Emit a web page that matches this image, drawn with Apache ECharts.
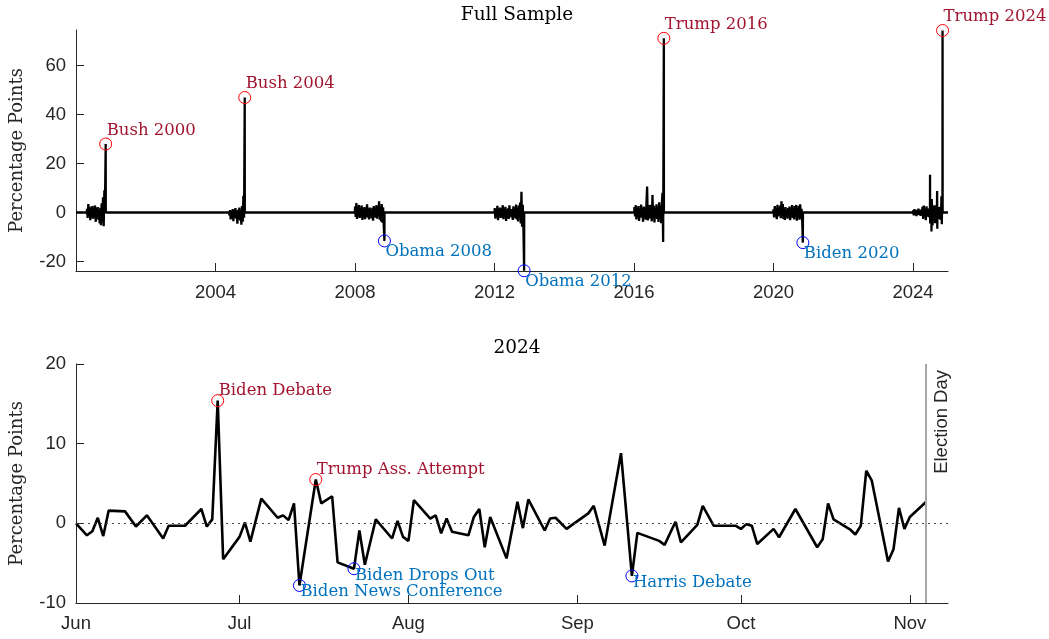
<!DOCTYPE html>
<html><head><meta charset="utf-8">
<script src="https://cdn.jsdelivr.net/npm/echarts@6/dist/echarts.min.js"></script>
<style>html,body{margin:0;padding:0;background:#fff}#c{width:1049px;height:639px}</style>
</head><body><div id="c"></div>
<script>
// ---------- 2024 panel: trading-day readings, June – November ----------
const dates2024 = ['2024-06-01','2024-06-03','2024-06-04','2024-06-05','2024-06-06','2024-06-07','2024-06-10','2024-06-12','2024-06-14','2024-06-17','2024-06-18','2024-06-21','2024-06-24','2024-06-25','2024-06-26','2024-06-27','2024-06-28','2024-07-01','2024-07-02','2024-07-03','2024-07-05','2024-07-08','2024-07-09','2024-07-10','2024-07-11','2024-07-12','2024-07-15','2024-07-16','2024-07-18','2024-07-19','2024-07-22','2024-07-23','2024-07-24','2024-07-26','2024-07-29','2024-07-30','2024-07-31','2024-08-01','2024-08-02','2024-08-05','2024-08-06','2024-08-07','2024-08-08','2024-08-09','2024-08-12','2024-08-13','2024-08-14','2024-08-15','2024-08-16','2024-08-19','2024-08-21','2024-08-22','2024-08-23','2024-08-26','2024-08-27','2024-08-28','2024-08-30','2024-09-03','2024-09-04','2024-09-06','2024-09-09','2024-09-11','2024-09-12','2024-09-16','2024-09-17','2024-09-19','2024-09-20','2024-09-23','2024-09-24','2024-09-26','2024-09-30','2024-10-01','2024-10-02','2024-10-03','2024-10-04','2024-10-07','2024-10-08','2024-10-11','2024-10-15','2024-10-16','2024-10-17','2024-10-18','2024-10-21','2024-10-22','2024-10-23','2024-10-24','2024-10-25','2024-10-28','2024-10-29','2024-10-30','2024-10-31','2024-11-01','2024-11-04'];
const values2024 = [0,-1.5,-1.0,0.7,-1.6,1.6,1.5,-0.4,1.0,-1.9,-0.3,-0.3,1.8,-0.4,0.5,15.4,-4.5,-1.7,0.1,-2.3,3.1,0.7,1.0,0.4,2.5,-7.8,5.5,2.5,3.4,-4.9,-5.7,-0.9,-5.2,0.5,-1.9,0.3,-1.7,-2.2,2.9,0.6,1.0,-1.25,0.6,-1.05,-1.5,0.8,1.8,-3.0,0.8,-4.4,2.7,-0.6,3.0,-0.9,0.6,0.7,-0.7,1.25,2.2,-2.8,8.8,-6.6,-1.2,-2.2,-2.7,0.2,-2.4,-0.2,2.2,-0.3,-0.3,-0.7,-0.1,-0.3,-2.6,-0.7,-1.75,1.8,-3.0,-2.0,2.5,0.5,-0.75,-1.4,-0.3,6.6,5.4,-4.8,-3.25,1.95,-0.7,0.8,2.7];

const eventNames  = ['Biden Debate','Trump Ass. Attempt','Biden News Conference','Biden Drops Out','Harris Debate'];
const eventDates  = ['2024-06-27','2024-07-15','2024-07-12','2024-07-22','2024-09-11'];
const eventParty  = ['R','R','D','D','D'];

const monthTicks  = ['2024-06-01','2024-07-01','2024-08-01','2024-09-01','2024-10-01','2024-11-01'];
const monthLabels = ['Jun','Jul','Aug','Sep','Oct','Nov'];
const electionDay2024Line = '2024-11-04';
const panel2Start = '2024-06-01';
const panel2End   = '2024-11-08';

// ---------- full sample: weekly readings before each election ----------
const electionNames  = ['Bush 2000','Bush 2004','Obama 2008','Obama 2012','Trump 2016','Biden 2020','Trump 2024'];
const electionDays   = ['2000-11-07','2004-11-02','2008-11-04','2012-11-06','2016-11-08','2020-11-03','2024-11-05'];
const electionValues = [28, 47, -11.6, -23.8, 71.2, -12.3, 74.4];
const electionParty  = ['R','R','D','D','R','D','R'];

const burst2000 = [1.5,-2.2,3.5,-1.0,2.4,-3.1,0.8,-1.8,2.6,-2.5,1.2,-0.6,2.9,-3.8,1.7,-1.3,2.2,-2.9,0.9,-4.5,1.9,-5.2,3.8,-4.1,6.2,-5.6,9.1,4.8];
const burst2004 = [-1.2,1.0,-2.8,0.6,-1.9,1.4,-3.5,0.4,-0.8,1.8,-2.4,0.9,-4.6,1.1,-1.5,2.0,-3.2,0.7,-5.0,2.6,-3.8,6.8,-2.1];
const burst2008 = [2.5,-1.8,3.9,-2.6,1.2,-0.9,3.1,-2.2,0.6,-1.5,2.8,-3.0,1.5,-0.4,2.2,-2.7,0.8,-1.9,3.4,-2.0,1.1,-2.8,2.0,-1.2,0.5,-2.4,1.9,-3.3,2.6,-1.0,0.9,-2.1,3.0,-2.5,1.6,-0.7,4.6,-2.9,2.3,-3.6,3.5,-4.2,2.1,-5.3];
const burst2012 = [1.8,-2.5,0.9,-1.4,2.7,-3.1,1.2,-0.6,2.0,-2.2,0.4,-1.8,3.0,-2.7,1.5,-1.1,2.3,-3.4,0.8,-0.9,1.7,-2.6,2.9,-1.5,0.6,-2.0,1.4,-3.0,2.5,-1.3,0.7,-2.4,3.3,-2.8,1.9,-3.6,2.8,-2.2,4.1,-4.5,8.5,-5.8,3.2,-7.1];
const burst2016 = [2.2,-1.6,3.0,-2.8,1.1,-0.5,2.6,-3.4,0.9,-1.7,3.3,-2.1,1.4,-3.8,2.4,-0.8,1.6,-2.9,3.7,10.6,-3.2,1.8,-2.5,3.1,-1.2,0.6,-3.6,7.2,-2.0,2.7,-4.1,1.5,-0.9,3.4,-2.6,2.0,-3.9,4.2,-1.8,2.9,-4.4,3.6,8.1,-12.0];
const burst2020 = [1.3,-2.0,2.6,-1.1,0.8,-2.7,3.2,-1.6,1.9,-0.7,2.8,-2.3,4.6,-1.9,3.5,-2.6,1.2,-3.0,2.2,-1.4,0.7,-2.5,1.8,-1.0,2.4,-3.1,1.0,-1.7,3.0,-2.2,0.9,-2.8,2.6,-1.3,3.1,-3.3,1.6,-0.6,2.7,-2.9,3.4,-2.4,1.5,-3.2];
const burst2024Early = [0.9,-1.2,1.4,-0.6,0.3,-1.5,1.1,-0.8,1.6,-1.0,0.5,-1.4,1.2,-0.4,2.3,-2.6,2.8,-1.9,1.4,-3.1,2.5,-1.7];
const burst2024EarlyStart = '2024-01-02';
const fullStart = '2000-01-01';
const fullEnd   = '2025-01-01';
const yearTicks = ['2004','2008','2012','2016','2020','2024'];
const fullYTicks = [-20, 0, 20, 40, 60];

// ---------- helpers ----------
function t(s, addDays){ const p = s.split('-').map(Number); return new Date(p[0], p[1]-1, p[2] + (addDays||0)).getTime(); }

// full-sample line
const bursts = [burst2000, burst2004, burst2008, burst2012, burst2016, burst2020];
const fullData = [[t(fullStart), 0]];
bursts.forEach((b, i) => {
  const n = b.length;
  fullData.push([t(electionDays[i], -7*n - 1), 0]);
  b.forEach((v, k) => fullData.push([t(electionDays[i], -7*(n-k)), v]));
  fullData.push([t(electionDays[i]), electionValues[i]]);
  fullData.push([t(electionDays[i], 1), 0]);
});
fullData.push([t(burst2024EarlyStart, -1), 0]);
burst2024Early.forEach((v, k) => fullData.push([t(burst2024EarlyStart, 7*k), v]));
dates2024.forEach((d, k) => fullData.push([t(d), values2024[k]]));
fullData.push([t(electionDays[6]), electionValues[6]]);
fullData.push([t(electionDays[6], 1), 0]);
fullData.push([t(fullEnd), 0]);

const panel2Data = dates2024.map((d, k) => [t(d), values2024[k]]);

const RED = '#FF0000', BLUE = '#0000FF', RED_TXT = '#A2142F', BLUE_TXT = '#0072BD';
const AX = '#262626';
const SERIF = 'DejaVu Serif';
const SANS = 'Liberation Sans';

function marks(names, xs, ys, party, want){
  const out = [];
  names.forEach((nm, i) => { if (party[i] === want) out.push({name: nm, value: [xs[i], ys[i]]}); });
  return out;
}
const elX = electionDays.map(d => t(d));
const evX = eventDates.map(d => t(d));
const evY = eventDates.map(d => values2024[dates2024.indexOf(d)]);

function markSeries(data, color, txt, dy, idx){
  return {
    type: 'scatter', xAxisIndex: idx, yAxisIndex: idx, data, z: 5,
    symbol: 'circle', symbolSize: 12,
    itemStyle: {color: 'rgba(0,0,0,0)', borderColor: color, borderWidth: 1, opacity: 1},
    emphasis: {disabled: true}, silent: true,
    label: {show: true, formatter: '{b}', position: 'inside', align: 'left', verticalAlign: 'middle',
            offset: [1, dy], color: txt, fontFamily: SERIF, fontSize: 16.5}
  };
}

const gridL = 76, gridR = 101, top1 = 30, h1 = 241, top2 = 364, h2 = 239;
const midX = gridL + (1049 - gridL - gridR) / 2;
const yearVals = yearTicks.map(y => t(y + '-01-01'));
const monthVals = monthTicks.map(d => t(d));

const option = {
  animation: false,
  backgroundColor: '#fff',
  title: [
    {text: 'Full Sample', left: midX, textAlign: 'center', top: 1, textStyle: {fontFamily: SERIF, fontSize: 18.5, fontWeight: 'normal', color: '#000'}},
    {text: '2024', left: midX, textAlign: 'center', top: 334, textStyle: {fontFamily: SERIF, fontSize: 18.5, fontWeight: 'normal', color: '#000'}}
  ],
  grid: [
    {left: gridL, right: gridR, top: top1, height: h1},
    {left: gridL, right: gridR, top: top2, height: h2}
  ],
  xAxis: [
    {
      type: 'value', gridIndex: 0, min: t(fullStart), max: t(fullEnd), scale: true, position: 'bottom',
      axisLine: {show: true, onZero: false, lineStyle: {color: AX, width: 1}},
      splitLine: {show: false},
      axisTick: {show: true, inside: true, length: 8, lineStyle: {color: AX}, customValues: yearVals},
      axisLabel: {color: AX, fontFamily: SANS, fontSize: 18.5, margin: 12, customValues: yearVals,
        formatter: v => String(new Date(v).getFullYear())}
    },
    {
      type: 'value', gridIndex: 1, min: t(panel2Start), max: t(panel2End), scale: true, position: 'bottom',
      axisLine: {show: true, onZero: false, lineStyle: {color: AX, width: 1}},
      splitLine: {show: false},
      axisTick: {show: true, inside: true, length: 8, lineStyle: {color: AX}, customValues: monthVals},
      axisLabel: {color: AX, fontFamily: SANS, fontSize: 18.5, margin: 11, customValues: monthVals,
        formatter: v => { const i = monthVals.indexOf(v); return i >= 0 ? monthLabels[i] : ''; }}
    }
  ],
  yAxis: [
    {
      type: 'value', gridIndex: 0, min: -23.9, max: 74.6,
      name: 'Percentage Points', nameLocation: 'middle', nameGap: 50,
      nameTextStyle: {fontFamily: SERIF, fontSize: 18, color: AX},
      axisLine: {show: true, onZero: false, lineStyle: {color: AX}},
      axisTick: {show: true, inside: true, length: 8, lineStyle: {color: AX}, customValues: fullYTicks},
      axisLabel: {color: AX, fontFamily: SANS, fontSize: 18.5, margin: 10, customValues: fullYTicks},
      splitLine: {show: false}
    },
    {
      type: 'value', gridIndex: 1, min: -10, max: 20, interval: 10,
      name: 'Percentage Points', nameLocation: 'middle', nameGap: 50,
      nameTextStyle: {fontFamily: SERIF, fontSize: 18, color: AX},
      axisLine: {show: true, onZero: false, lineStyle: {color: AX}},
      axisTick: {show: true, inside: true, length: 8, lineStyle: {color: AX}},
      axisLabel: {color: AX, fontFamily: SANS, fontSize: 18.5, margin: 10},
      splitLine: {show: false}
    }
  ],
  series: [
    {type: 'line', xAxisIndex: 0, yAxisIndex: 0, data: fullData, showSymbol: false, symbol: 'none',
     lineStyle: {color: '#000', width: 2.3}, silent: true, z: 3},
    markSeries(marks(electionNames, elX, electionValues, electionParty, 'R'), RED, RED_TXT, -13.7, 0),
    markSeries(marks(electionNames, elX, electionValues, electionParty, 'D'), BLUE, BLUE_TXT, 11.2, 0),
    {type: 'line', xAxisIndex: 1, yAxisIndex: 1, data: panel2Data, showSymbol: false, symbol: 'none',
     lineStyle: {color: '#000', width: 2.6}, silent: true, z: 3,
     markLine: {
       symbol: 'none', silent: true, animation: false,
       data: [
         {yAxis: 0, lineStyle: {type: [2, 4], color: '#404040', width: 1}, label: {show: false}},
         {xAxis: t(electionDay2024Line), lineStyle: {type: 'solid', color: '#a6a6a6', width: 2},
          label: {show: true, formatter: 'Election Day', position: 'insideEndBottom', distance: 6,
                  color: AX, fontFamily: SANS, fontSize: 18.5}}
       ]
     }},
    markSeries(marks(eventNames, evX, evY, eventParty, 'R'), RED, RED_TXT, -10, 1),
    markSeries(marks(eventNames, evX, evY, eventParty, 'D'), BLUE, BLUE_TXT, 6.5, 1)
  ]
};

const chart = echarts.init(document.getElementById('c'), null, {renderer: 'canvas'});
chart.setOption(option);
</script>
</body></html>
